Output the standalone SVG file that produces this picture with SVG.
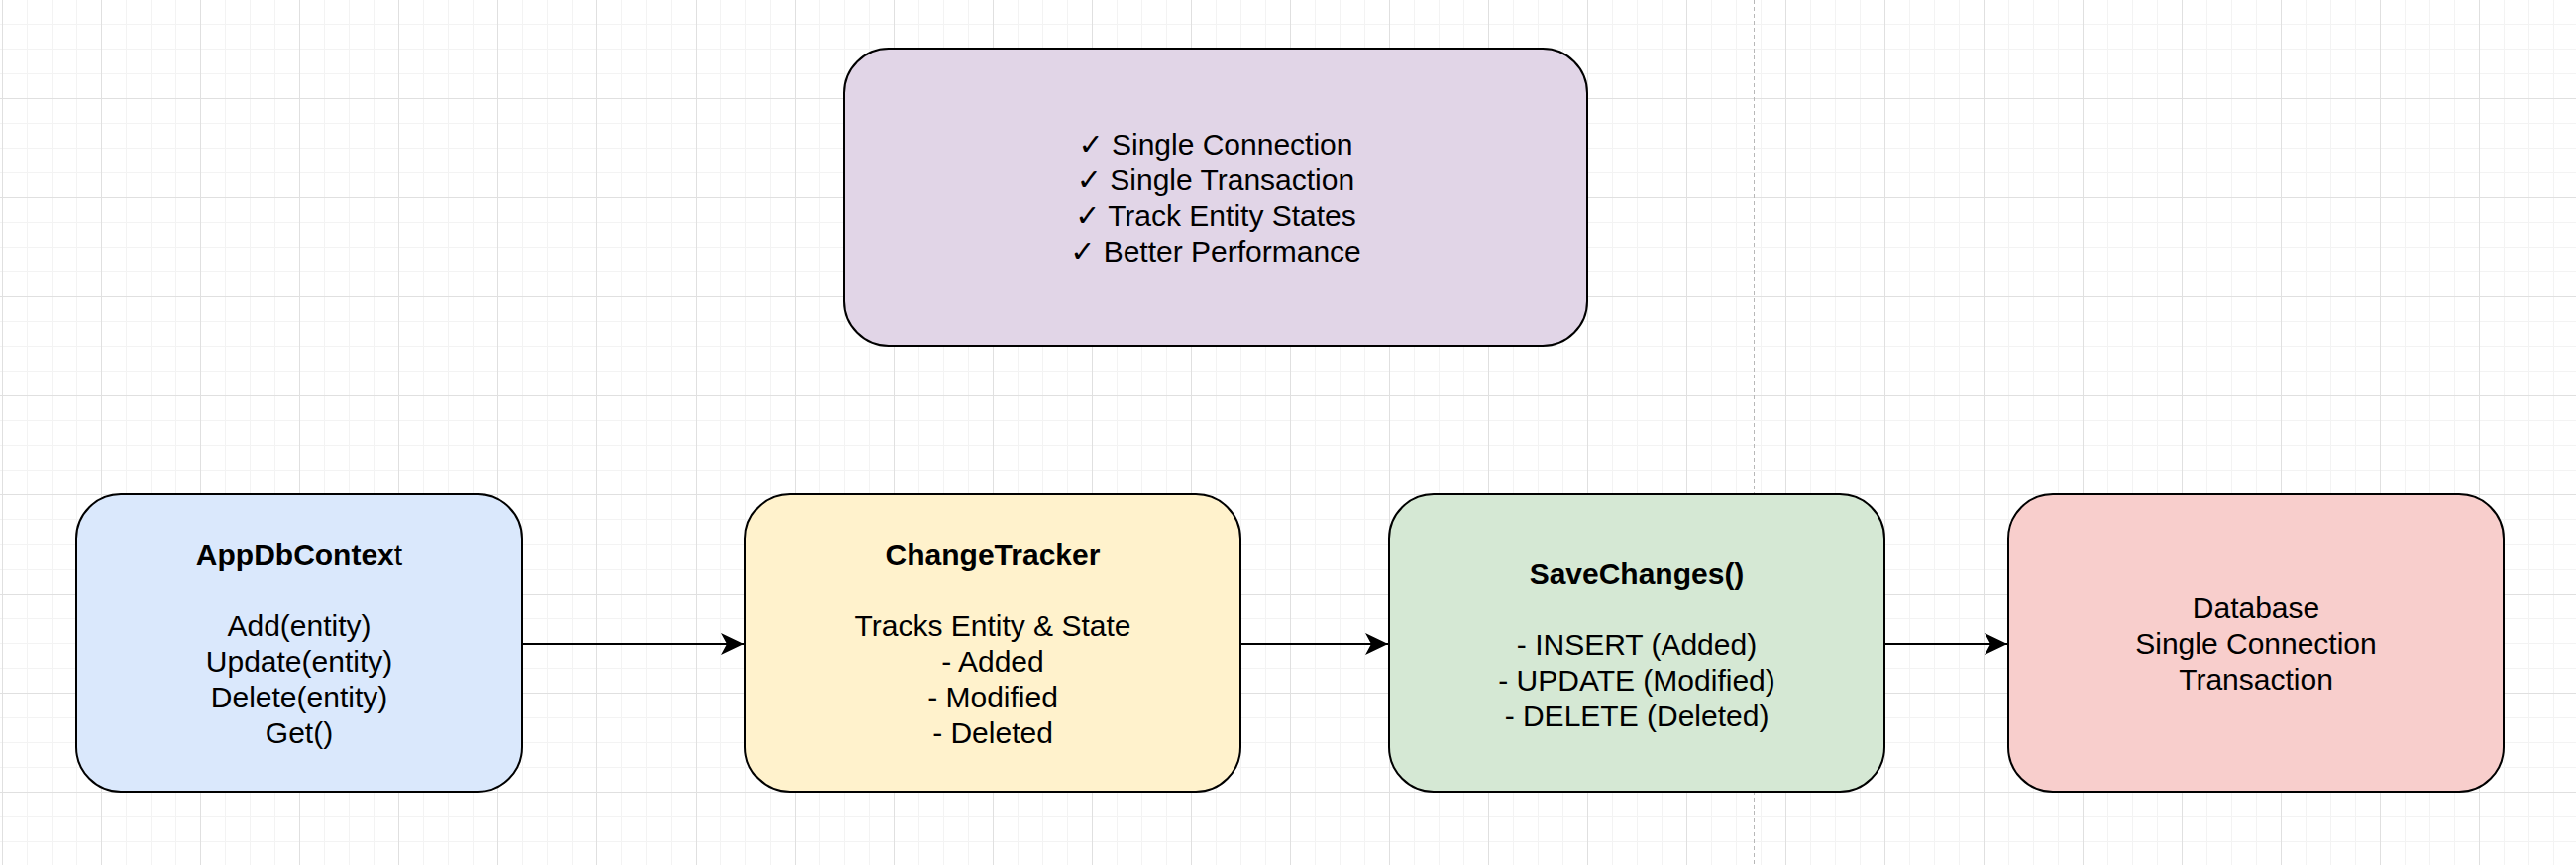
<svg xmlns="http://www.w3.org/2000/svg" width="2600" height="873" viewBox="0 0 2600 873">
  <style>
    .box { stroke: #000000; stroke-width: 2; }
    .t { font-family: "Liberation Sans", Arial, "DejaVu Sans", sans-serif; font-size: 30px; fill: #000000; text-anchor: middle; }
    .b { font-weight: bold; }
    .ck { font-family: "DejaVu Sans", sans-serif; font-weight: bold; }
    .edge { stroke: #000000; stroke-width: 2; fill: none; }
  </style>
  <defs>
    <pattern id="grid" x="2" y="-1" width="100" height="100" patternUnits="userSpaceOnUse">
      <rect x="25" y="0" width="1" height="100" fill="#f3f3f3"/>
      <rect x="50" y="0" width="1" height="100" fill="#f3f3f3"/>
      <rect x="75" y="0" width="1" height="100" fill="#f3f3f3"/>
      <rect x="0" y="25" width="100" height="1" fill="#f3f3f3"/>
      <rect x="0" y="50" width="100" height="1" fill="#f3f3f3"/>
      <rect x="0" y="75" width="100" height="1" fill="#f3f3f3"/>
      <rect x="0" y="0" width="1" height="100" fill="#e0e0e0"/>
      <rect x="0" y="0" width="100" height="1" fill="#e0e0e0"/>
    </pattern>
    <marker id="arrow" viewBox="0 0 24 24" refX="23" refY="12" markerWidth="24" markerHeight="24" markerUnits="userSpaceOnUse" orient="auto">
      <path d="M23,12 L0,1 L6,12 L0,23 Z" fill="#000000"/>
    </marker>
  </defs>

  <rect x="0" y="0" width="2600" height="873" fill="#ffffff"/>
  <rect x="0" y="0" width="2600" height="873" fill="url(#grid)"/>
  <line x1="1770.5" y1="0" x2="1770.5" y2="873" stroke="#b8b8b8" stroke-width="1" stroke-dasharray="4 3"/>

  <g id="connectors">
    <line class="edge" x1="528" y1="650" x2="751" y2="650" marker-end="url(#arrow)"/>
    <line class="edge" x1="1253" y1="650" x2="1401" y2="650" marker-end="url(#arrow)"/>
    <line class="edge" x1="1903" y1="650" x2="2026" y2="650" marker-end="url(#arrow)"/>
  </g>

  <g id="benefits">
    <rect class="box" x="852" y="49" width="750" height="300" rx="45" ry="45" fill="#e1d5e7"/>
    <text class="t" x="1227" y="156"><tspan class="ck">✓</tspan> Single Connection</text>
    <text class="t" x="1227" y="192"><tspan class="ck">✓</tspan> Single Transaction</text>
    <text class="t" x="1227" y="228"><tspan class="ck">✓</tspan> Track Entity States</text>
    <text class="t" x="1227" y="264"><tspan class="ck">✓</tspan> Better Performance</text>
  </g>

  <g id="appdbcontext">
    <rect class="box" x="77" y="499" width="450" height="300" rx="45" ry="45" fill="#dae8fc"/>
    <text class="t" x="302" y="570"><tspan class="b">AppDbContex</tspan>t</text>
    <text class="t" x="302" y="642">Add(entity)</text>
    <text class="t" x="302" y="678">Update(entity)</text>
    <text class="t" x="302" y="714">Delete(entity)</text>
    <text class="t" x="302" y="750">Get()</text>
  </g>

  <g id="changetracker">
    <rect class="box" x="752" y="499" width="500" height="300" rx="45" ry="45" fill="#fff2cc"/>
    <text class="t b" x="1002" y="570">ChangeTracker</text>
    <text class="t" x="1002" y="642">Tracks Entity &amp; State</text>
    <text class="t" x="1002" y="678">- Added</text>
    <text class="t" x="1002" y="714">- Modified</text>
    <text class="t" x="1002" y="750">- Deleted</text>
  </g>

  <g id="savechanges">
    <rect class="box" x="1402" y="499" width="500" height="300" rx="45" ry="45" fill="#d5e8d4"/>
    <text class="t b" x="1652" y="589">SaveChanges()</text>
    <text class="t" x="1652" y="661">- INSERT (Added)</text>
    <text class="t" x="1652" y="697">- UPDATE (Modified)</text>
    <text class="t" x="1652" y="733">- DELETE (Deleted)</text>
  </g>

  <g id="database">
    <rect class="box" x="2027" y="499" width="500" height="300" rx="45" ry="45" fill="#f8cecc"/>
    <text class="t" x="2277" y="624">Database</text>
    <text class="t" x="2277" y="660">Single Connection</text>
    <text class="t" x="2277" y="696">Transaction</text>
  </g>
</svg>
